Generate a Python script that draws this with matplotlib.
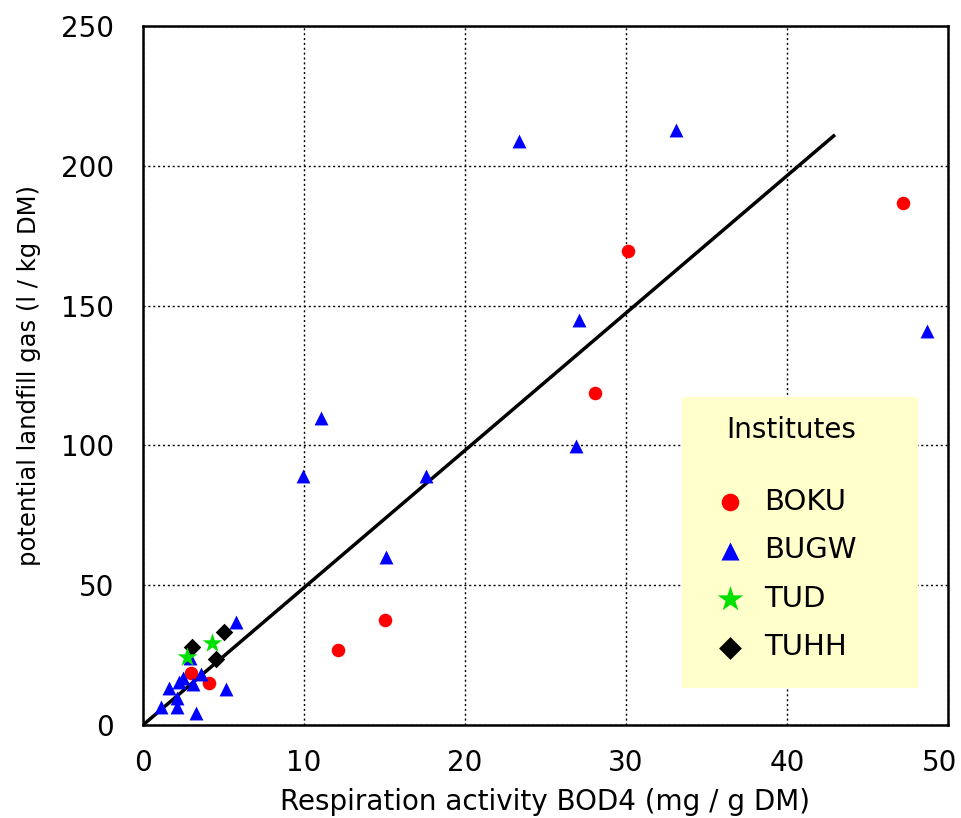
import matplotlib
matplotlib.use("Agg")
import matplotlib.pyplot as plt
from matplotlib.patches import Rectangle
from matplotlib.transforms import ScaledTranslation
import numpy as np

plt.rcParams['font.family'] = ['DejaVu Sans']

# Data
boku_x = [47.2, 30.1, 28.1, 15.0, 12.1, 3.0, 4.1]
boku_y = [186.7, 169.5, 118.7, 37.6, 26.8, 18.7, 15.1]

bugw_x = [23.35, 33.1, 48.7, 27.1, 26.9, 11.06, 9.94, 17.6, 15.1, 5.75, 5.16, 3.27,
          1.09, 2.13, 2.09, 1.64, 2.25, 2.46, 3.12, 3.6, 2.92]
bugw_y = [208.9, 212.8, 140.9, 144.8, 99.8, 109.8, 89.1, 89.1, 60.1, 36.9, 12.8, 4.4,
          6.3, 6.3, 9.5, 13.3, 15.5, 16.9, 14.5, 18.1, 23.8]

tud_x = [2.71, 4.26]
tud_y = [24.4, 29.4]

tuhh_x = [3.06, 5.05, 4.53]
tuhh_y = [27.8, 33.4, 23.6]

fit_x = [0, 42.9]
fit_y = [0, 210.7]

xticks = [0, 10, 20, 30, 40, 50]
yticks = [0, 50, 100, 150, 200, 250]

fig = plt.figure(figsize=(9.62, 8.18), dpi=100)
ax = fig.add_axes([143/962, 1-725/818, (948-143)/962, (725-26)/818])

ax.set_xlim(0, 50)
ax.set_ylim(0, 250)
ax.set_xticks(xticks)
ax.set_yticks(yticks)
ax.grid(True, color='black', linestyle=(0, (1.5, 2)), linewidth=1.0)
ax.tick_params(length=0, labelsize=20)
ax.tick_params(axis='x', pad=17)
ax.tick_params(axis='y', pad=21)
for s in ax.spines.values():
    s.set_linewidth(1.8)
    s.set_color('black')

ax.plot(fit_x, fit_y, color='black', linewidth=2.5, zorder=3)

h1 = ax.scatter(boku_x, boku_y, marker='o', s=95, color='#FF0000', zorder=4, label='BOKU', linewidths=0)
h2 = ax.scatter(bugw_x, bugw_y, marker='^', s=100, color='#0000FF', zorder=4, label='BUGW', linewidths=0)
h3 = ax.scatter(tud_x, tud_y, marker='*', s=220, color='#00E000', zorder=5, label='TUD', linewidths=0)
h4 = ax.scatter(tuhh_x, tuhh_y, marker='D', s=80, color='black', zorder=4, label='TUHH', linewidths=0)

ax.set_xlabel('Respiration activity BOD4 (mg / g DM)', fontsize=20, labelpad=8)
ax.set_ylabel('potential landfill gas (l / kg DM)', fontsize=17.5, labelpad=14)

# shift last x tick label slightly left so it stays inside the figure
fig.canvas.draw()
last = ax.get_xticklabels()[-1]
last.set_transform(last.get_transform() + ScaledTranslation(-8/100, 0, fig.dpi_scale_trans))

# legend background
bx0, bx1 = (682-143)/805, (918-143)/805
by0, by1 = (725-688)/699, (725-397)/699
ax.add_patch(Rectangle((bx0, by0), bx1-bx0, by1-by0, transform=ax.transAxes,
                       facecolor='#FFFFCC', edgecolor='none', zorder=6))
ax.text((791-143)/805, (725-430)/699, 'Institutes', transform=ax.transAxes,
        ha='center', va='center', fontsize=20, zorder=7)
leg = ax.legend(handles=[h1, h2, h3, h4], loc='upper left',
                bbox_to_anchor=((715-143)/805, (725-488)/699),
                frameon=False, fontsize=21, labelspacing=0.70, markerscale=1.3,
                handletextpad=0.70, borderpad=0, borderaxespad=0, handlelength=1.0)
leg.set_zorder(8)

fig.savefig('out.png', dpi=100)
